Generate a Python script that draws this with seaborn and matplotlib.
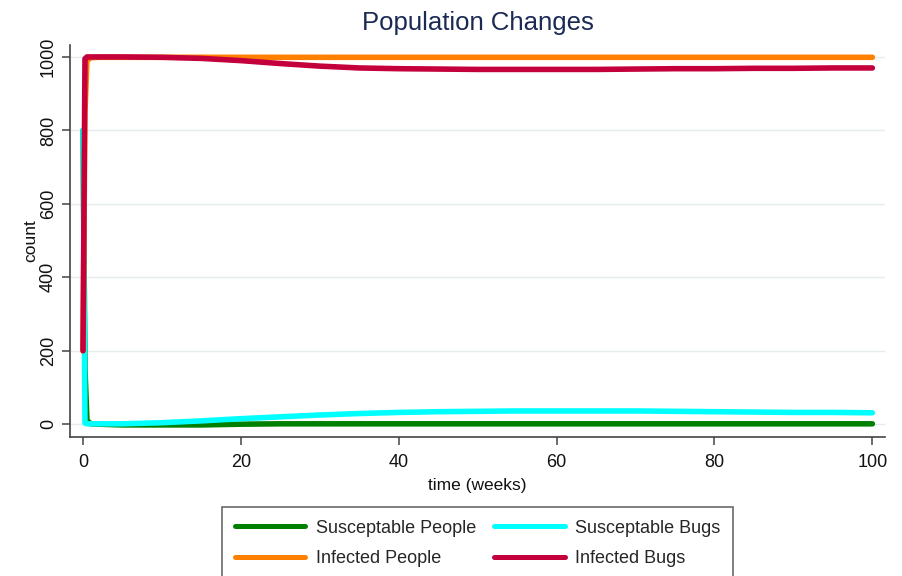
import pandas as pd
import matplotlib
matplotlib.use("Agg")
import matplotlib.pyplot as plt
import seaborn as sns

# -------------------------------------------------
# Data
# -------------------------------------------------

time_weeks = [0, 0.25, 0.5, 1, 2, 5, 10, 15, 20, 25, 30, 35, 40, 45, 50,
              55, 60, 65, 70, 75, 80, 85, 90, 95, 100]

susceptible_people = [800, 150, 10, 1, 0, -2, -2, -2, 0, 1, 1, 1, 1, 1, 1,
                      1, 1, 1, 1, 1, 1, 1, 1, 1, 1]
susceptible_bugs = [800, 3, 1, 1, 1, 1, 4, 9, 15, 20, 25, 29, 32, 34, 35,
                    36, 36, 36, 36, 35, 34, 33, 32, 32, 31]
infected_people = [200, 850, 990, 998, 999, 999, 999, 999, 999, 999, 999, 999, 999, 999, 999,
                   999, 999, 999, 999, 999, 999, 999, 999, 999, 999]
infected_bugs = [200, 995, 1000, 1000, 1000, 1000, 999, 996, 990, 982, 975, 970, 968, 967, 966,
                 966, 966, 966, 967, 968, 968, 969, 969, 970, 970]

series_names = ["Susceptable People", "Susceptable Bugs", "Infected People", "Infected Bugs"]
series_colors = ["#008000", "#00ffff", "#ff8000", "#c4003c"]

df = pd.concat([
    pd.DataFrame({"time": time_weeks, "count": vals, "series": name})
    for name, vals in zip(series_names,
                          [susceptible_people, susceptible_bugs, infected_people, infected_bugs])
])

# -------------------------------------------------
# Style
# -------------------------------------------------

sns.set_style("white")
plt.rcParams["font.family"] = ["Liberation Sans", "DejaVu Sans"]

fig = plt.figure(figsize=(9.03, 5.76), dpi=100)
ax = fig.add_axes([0.0775, 0.241, 0.903, 0.681])

sns.lineplot(data=df, x="time", y="count", hue="series", hue_order=series_names,
             palette=dict(zip(series_names, series_colors)), linewidth=4.0,
             ax=ax, legend=False, solid_capstyle="round", solid_joinstyle="round")

ax.set_xlim(-1.65, 101.65)
ax.set_ylim(-35.4, 1032.7)
ax.set_xticks([0, 20, 40, 60, 80, 100])
ax.set_yticks([0, 200, 400, 600, 800, 1000])
for yv in [0, 200, 400, 600, 800, 1000]:
    ax.axhline(yv, color="#e4ecee", linewidth=1.0, zorder=0)

for side in ["top", "right"]:
    ax.spines[side].set_visible(False)
for side in ["left", "bottom"]:
    ax.spines[side].set_color("#444444")
    ax.spines[side].set_linewidth(1.2)

ax.tick_params(axis="both", direction="out", length=6, width=1.1, color="#444444",
               labelsize=13, labelcolor="#111111", left=True, bottom=True)
ax.tick_params(axis="x", pad=6)
plt.setp(ax.get_yticklabels(), rotation=90, va="center")

ax.set_xlabel("time (weeks)", fontsize=12.5, color="#111111", labelpad=5)
ax.set_ylabel("count", fontsize=12.5, color="#111111", labelpad=1)
ax.set_title("Population Changes", fontsize=18.5, color="#1a2a55", pad=11)

# legend fills column-wise, so order the handles to read row by row
leg_order = [0, 2, 1, 3]
handles = [plt.Line2D([], [], color=series_colors[i], linewidth=3.6) for i in leg_order]
labels = [series_names[i] for i in leg_order]
leg = fig.legend(handles, labels, ncol=2, loc="upper left",
                 bbox_to_anchor=(222 / 903, 1 - 507 / 576),
                 frameon=True, fancybox=False, fontsize=13, handlelength=3.9,
                 handletextpad=0.6, columnspacing=1.0, borderaxespad=0,
                 labelspacing=0.74, borderpad=0.7)
leg.get_frame().set_edgecolor("#444444")
leg.get_frame().set_linewidth(1.2)

fig.savefig("out.png", dpi=100, facecolor="white")
